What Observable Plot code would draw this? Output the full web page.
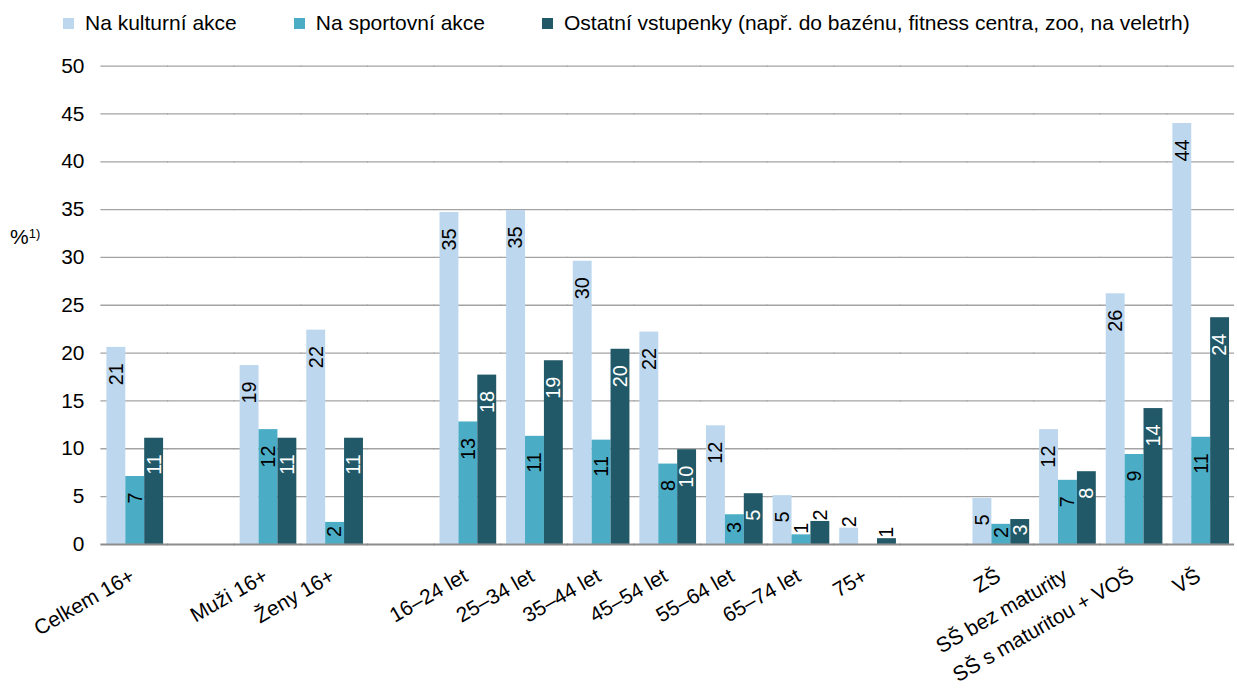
<!DOCTYPE html>
<html><head><meta charset="utf-8">
<script src="https://cdn.jsdelivr.net/npm/d3@7"></script>
<script src="https://cdn.jsdelivr.net/npm/@observablehq/plot@0.6"></script>
<style>
body{margin:0;background:#fff;font-family:"Liberation Sans",Arial,sans-serif;overflow:hidden;}
#wrap{position:relative;width:1237px;height:689px;overflow:hidden;}
#chart{position:absolute;left:0;top:0;}
#legend{position:absolute;left:63px;top:11px;display:flex;font-size:21px;line-height:24px;color:#000;white-space:nowrap;}
.item{display:flex;align-items:center;margin-right:57px;}
.sw{width:11px;height:11px;margin-right:11px;display:inline-block;}
#ylab{position:absolute;left:10px;top:225px;font-size:21px;line-height:24px;}
#ylab sup{font-size:13px;vertical-align:top;position:relative;top:-3px;}
</style></head>
<body><div id="wrap"><div id="chart"></div><div id="legend"></div><div id="ylab">%<sup>1)</sup></div></div>
<script>
const slots = ["Celkem 16+", " ", "Muži 16+", "Ženy 16+", "  ", "16–24 let", "25–34 let", "35–44 let", "45–54 let", "55–64 let", "65–74 let", "75+", "   ", "ZŠ", "SŠ bez maturity", "SŠ s maturitou + VOŠ", "VŠ"];
const groups = slots.filter(s => s.trim() !== "");
const seriesKeys = ["kult", "sport", "other"];
const seriesNames = ["Na kulturní akce", "Na sportovní akce", "Ostatní vstupenky (např. do bazénu, fitness centra, zoo, na veletrh)"];
const colors = ["#bdd7ee", "#4bacc6", "#215968"];
const kult  = [20.6, 18.7, 22.4, 34.7, 34.9, 29.6, 22.2, 12.4, 5.1, 1.7, 4.8, 12.0, 26.2, 44.0];
const sport = [7.1, 12.0, 2.3, 12.8, 11.3, 10.9, 8.4, 3.1, 1.0, null, 2.1, 6.7, 9.4, 11.2];
const other = [11.1, 11.1, 11.1, 17.7, 19.2, 20.4, 9.9, 5.3, 2.4, 0.6, 2.6, 7.6, 14.2, 23.7];
const yTicks = [0, 5, 10, 15, 20, 25, 30, 35, 40, 45, 50];
const outsideLabels = ["65–74 let|sport", "65–74 let|other", "75+|kult", "75+|other"];

const W = 1244, H = 689, mTop = 66, mBottom = 142, mLeft = 100, mRight = 3;
const padIn = 0.136, padOut = padIn / 2;
const step = (W - mLeft - mRight) / slots.length;
const halfGap = padIn * step / 2;
const pxPerUnit = (H - mTop - mBottom) / 50;
const labelSize = 20, insideOffset = 17;

const rows = [];
groups.forEach((g, i) => [kult, sport, other].forEach((arr, j) => {
  if (arr[i] != null) rows.push({group: g, series: seriesKeys[j], value: arr[i], label: d3.format(".0f")(arr[i])});
}));
rows.forEach(d => {
  const len = d.label.length * labelSize * 0.556;
  if (outsideLabels.includes(d.group + "|" + d.series)) d.mode = "outside";
  else if (d.value * pxPerUnit < insideOffset + len + 6) d.mode = "center";
  else d.mode = "inside";
  d.mid = d.value / 2;
});
const lab = (mode, white) => rows.filter(d => d.mode === mode && ((d.series === "other") === white));
const gridRows = slots.flatMap(s => yTicks.filter(t => t > 0).map(t => ({slot: s, tick: t})));
const baseRows = slots.map(s => ({slot: s, tick: 0}));

const common = {fx: "group", x: "series", text: "label", rotate: -90, fontSize: labelSize};
const ext = {insetLeft: -halfGap - 0.5, insetRight: -halfGap - 0.5};
const chart = Plot.plot({
  width: W, height: H,
  marginTop: mTop, marginBottom: mBottom, marginLeft: mLeft, marginRight: mRight,
  style: {fontFamily: "'Liberation Sans', Arial, sans-serif", fontSize: "21px", background: "#fff", overflow: "visible", color: "#000"},
  fx: {domain: slots, paddingInner: padIn, paddingOuter: padOut, label: null},
  x: {domain: seriesKeys, padding: 0, axis: null},
  y: {domain: [0, 50], label: null},
  color: {domain: seriesKeys, range: colors},
  marks: [
    Plot.ruleY(gridRows, {fx: "slot", y: "tick", stroke: "#a3a3a3", strokeWidth: 1.3, ...ext}),
    Plot.barY(rows, {fx: "group", x: "series", y: "value", fill: "series"}),
    Plot.ruleY(baseRows, {fx: "slot", y: "tick", stroke: "#8c8c8c", strokeWidth: 2, ...ext}),
    Plot.text(lab("inside", false), {...common, y: "value", textAnchor: "end", dy: insideOffset - 1, fill: "#000"}),
    Plot.text(lab("inside", true), {...common, y: "value", textAnchor: "end", dy: insideOffset - 1, fill: "#fff"}),
    Plot.text(lab("center", false), {...common, y: "mid", textAnchor: "middle", dy: -2, fill: "#000"}),
    Plot.text(lab("center", true), {...common, y: "mid", textAnchor: "middle", dy: -2, fill: "#fff"}),
    Plot.text(rows.filter(d => d.mode === "outside"), {...common, y: "value", textAnchor: "start", dy: -1, fill: "#000"}),
    Plot.axisY({ticks: yTicks, tickSize: 0, tickPadding: 17 + halfGap, fontSize: 21, label: null, fill: "#000"}),
    Plot.axisFx({anchor: "bottom", tickRotate: -30, tickSize: 0, tickPadding: 30, dx: -2, fontSize: 21, label: null, fill: "#000"})
  ]
});
document.getElementById("chart").appendChild(chart);

const legend = document.getElementById("legend");
seriesNames.forEach((name, i) => {
  const it = document.createElement("div"); it.className = "item";
  const sw = document.createElement("span"); sw.className = "sw"; sw.style.background = colors[i];
  const tx = document.createElement("span"); tx.textContent = name;
  it.appendChild(sw); it.appendChild(tx); legend.appendChild(it);
});
</script>
</body></html>
